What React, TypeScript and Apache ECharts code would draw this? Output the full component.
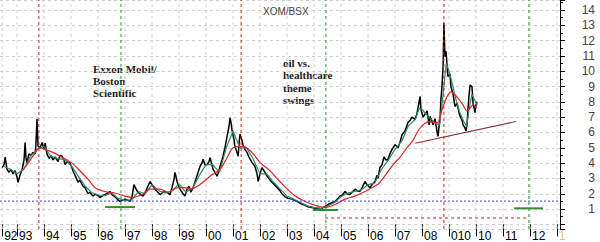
import React, { useEffect, useRef } from "react";
import * as echarts from "echarts";

// x-axis ticks (decimal years) and their printed labels
const tickYears = [1992.45, 1993, 1994, 1995, 1996, 1997, 1998, 1999, 2000, 2001, 2002, 2003, 2004, 2005, 2006, 2007, 2008, 2009, 2010, 2011, 2012, 2013];
const tickLabels = ["92", "93", "94", "95", "96", "97", "98", "99", "00", "01", "02", "03", "04", "05", "06", "07", "08", "010", "10", "11", "12", "1"];

// XOM/BSX ratio (black)
const ratio: [number, number][] = [
  [1992.45,3.7],[1992.52,3.9],[1992.56,4.4],[1992.63,3.6],[1992.70,3.4],[1992.78,3.6],[1992.85,3.3],[1992.93,3.5],[1993.00,3.1],[1993.04,2.75],[1993.11,3.2],[1993.19,3.6],[1993.26,4.2],[1993.30,5.35],[1993.33,4.4],[1993.37,4.0],[1993.44,4.6],[1993.52,4.5],[1993.59,4.7],[1993.67,4.6],[1993.70,5.2],[1993.74,6.9],[1993.78,5.1],[1993.85,5.0],[1993.93,5.35],[1994.00,4.9],[1994.04,5.3],[1994.11,4.6],[1994.19,4.3],[1994.26,4.5],[1994.33,4.2],[1994.41,4.4],[1994.52,4.1],[1994.59,4.5],[1994.67,4.45],[1994.74,4.2],[1994.78,3.9],[1994.85,4.1],[1994.96,4.0],[1995.04,3.7],[1995.07,3.5],[1995.15,3.2],[1995.26,2.75],[1995.33,2.9],[1995.44,2.5],[1995.52,2.4],[1995.63,2.0],[1995.70,2.1],[1995.81,1.85],[1995.89,1.97],[1996.00,1.9],[1996.07,1.75],[1996.15,1.85],[1996.26,1.95],[1996.37,2.05],[1996.44,2.15],[1996.52,1.95],[1996.63,1.8],[1996.74,1.6],[1996.81,1.5],[1996.93,1.6],[1997.00,1.65],[1997.07,1.6],[1997.19,1.5],[1997.26,1.8],[1997.33,2.6],[1997.41,2.3],[1997.48,2.1],[1997.59,1.95],[1997.67,1.85],[1997.78,2.2],[1997.85,2.5],[1997.93,2.8],[1998.00,2.6],[1998.11,2.3],[1998.19,2.15],[1998.30,1.95],[1998.41,2.1],[1998.48,2.15],[1998.59,2.05],[1998.67,1.95],[1998.74,2.4],[1998.81,2.9],[1998.85,3.4],[1998.93,2.8],[1998.96,2.6],[1999.07,2.2],[1999.15,2.0],[1999.22,1.85],[1999.30,2.3],[1999.37,2.5],[1999.44,2.1],[1999.52,2.4],[1999.59,2.75],[1999.67,3.2],[1999.78,3.8],[1999.85,4.0],[1999.89,4.25],[1999.96,3.9],[2000.04,3.9],[2000.11,4.1],[2000.15,4.35],[2000.22,3.9],[2000.26,3.6],[2000.33,3.4],[2000.41,3.15],[2000.48,3.5],[2000.52,3.8],[2000.59,4.2],[2000.63,4.45],[2000.70,5.0],[2000.78,5.75],[2000.85,6.4],[2000.89,6.95],[2000.93,6.6],[2000.96,6.2],[2001.04,5.5],[2001.07,5.1],[2001.15,4.7],[2001.19,4.45],[2001.22,5.2],[2001.26,5.9],[2001.33,5.5],[2001.37,5.2],[2001.44,4.9],[2001.52,4.7],[2001.59,4.4],[2001.70,4.05],[2001.81,3.8],[2001.89,3.3],[2001.93,2.8],[2002.00,3.3],[2002.07,3.7],[2002.15,3.5],[2002.26,3.15],[2002.37,2.9],[2002.44,2.75],[2002.56,2.55],[2002.63,2.4],[2002.74,2.2],[2002.81,2.0],[2002.93,1.8],[2003.04,1.7],[2003.19,1.65],[2003.30,1.55],[2003.41,1.45],[2003.52,1.35],[2003.67,1.25],[2003.78,1.15],[2003.93,1.1],[2004.04,1.05],[2004.15,1.05],[2004.26,1.0],[2004.33,1.1],[2004.44,1.2],[2004.52,1.3],[2004.63,1.4],[2004.78,1.5],[2004.89,1.7],[2004.96,1.85],[2005.04,1.9],[2005.15,2.15],[2005.22,2.0],[2005.33,1.95],[2005.41,2.1],[2005.52,2.3],[2005.59,2.2],[2005.70,2.15],[2005.78,2.4],[2005.89,2.8],[2005.96,2.6],[2006.07,2.4],[2006.15,2.6],[2006.26,2.8],[2006.33,3.2],[2006.37,3.0],[2006.44,3.7],[2006.52,3.9],[2006.59,4.4],[2006.67,4.2],[2006.74,4.25],[2006.81,4.6],[2006.89,4.9],[2007.00,5.2],[2007.11,5.0],[2007.19,5.4],[2007.26,5.85],[2007.37,6.1],[2007.48,6.65],[2007.56,6.8],[2007.63,7.0],[2007.74,6.85],[2007.81,7.2],[2007.85,7.6],[2007.93,8.35],[2007.96,7.5],[2008.04,7.0],[2008.11,7.2],[2008.19,7.4],[2008.26,6.5],[2008.30,7.05],[2008.41,6.5],[2008.48,6.9],[2008.56,6.0],[2008.59,5.75],[2008.67,7.0],[2008.70,8.15],[2008.74,9.0],[2008.78,10.3],[2008.81,13.15],[2008.85,10.95],[2008.89,11.3],[2008.93,10.3],[2008.96,9.65],[2009.04,9.8],[2009.07,9.0],[2009.15,8.5],[2009.22,7.7],[2009.30,7.9],[2009.37,7.3],[2009.41,7.05],[2009.48,6.8],[2009.52,6.5],[2009.59,6.3],[2009.63,6.1],[2009.67,6.6],[2009.70,7.5],[2009.74,8.4],[2009.78,9.1],[2009.85,9.0],[2009.89,7.9],[2009.93,7.6],[2009.96,7.3],[2010.00,7.8],[2010.04,8.0]
];

// short moving average (teal)
const shortAvg: [number, number][] = [
  [1992.5,3.8],[1992.75,3.6],[1993.0,3.3],[1993.25,3.6],[1993.5,4.45],[1993.75,4.9],[1994.0,5.1],[1994.25,4.45],[1994.5,4.3],[1994.75,4.25],[1995.0,3.85],[1995.25,3.2],[1995.5,2.55],[1995.75,2.1],[1996.0,1.92],[1996.25,1.88],[1996.5,2.05],[1996.75,1.7],[1997.0,1.57],[1997.25,1.6],[1997.5,2.15],[1997.75,2.0],[1998.0,2.6],[1998.25,2.2],[1998.5,2.05],[1998.75,2.2],[1999.0,2.65],[1999.25,2.1],[1999.5,2.35],[1999.75,3.2],[2000.0,3.9],[2000.25,3.9],[2000.5,3.4],[2000.75,5.0],[2001.0,6.1],[2001.25,5.0],[2001.5,5.0],[2001.75,4.25],[2002.0,3.3],[2002.25,3.3],[2002.5,2.75],[2002.75,2.3],[2003.0,1.85],[2003.25,1.65],[2003.5,1.43],[2003.75,1.22],[2004.0,1.1],[2004.25,1.05],[2004.5,1.2],[2004.75,1.42],[2005.0,1.8],[2005.25,2.05],[2005.5,2.15],[2005.75,2.25],[2006.0,2.6],[2006.25,2.7],[2006.5,3.6],[2006.75,4.2],[2007.0,4.9],[2007.25,5.45],[2007.5,6.45],[2007.75,6.85],[2007.9,7.6],[2008.0,7.5],[2008.25,7.0],[2008.5,6.6],[2008.65,6.5],[2008.78,8.5],[2008.9,10.5],[2009.0,10.0],[2009.12,9.2],[2009.25,8.2],[2009.4,7.3],[2009.55,6.7],[2009.65,6.4],[2009.75,7.6],[2009.85,8.5],[2009.95,8.1],[2010.04,7.8]
];

// long moving average (red)
const longAvg: [number, number][] = [
  [1993.19,3.5],[1993.37,3.9],[1993.59,4.45],[1993.85,5.0],[1994.04,4.9],[1994.33,4.7],[1994.70,4.35],[1995.04,4.0],[1995.33,3.5],[1995.63,2.95],[1995.89,2.4],[1996.26,2.15],[1996.63,2.05],[1997.00,1.85],[1997.26,1.75],[1997.63,1.95],[1997.93,2.3],[1998.30,2.3],[1998.59,2.1],[1998.96,2.4],[1999.22,2.4],[1999.41,2.3],[1999.78,2.6],[2000.15,3.15],[2000.52,3.6],[2000.78,4.35],[2001.00,5.0],[2001.37,5.1],[2001.70,4.7],[2002.00,4.05],[2002.37,3.5],[2002.63,3.0],[2002.93,2.45],[2003.30,1.85],[2003.67,1.5],[2004.04,1.25],[2004.41,1.1],[2004.78,1.3],[2005.15,1.65],[2005.52,1.85],[2005.89,2.15],[2006.26,2.5],[2006.44,2.75],[2006.93,3.9],[2007.19,4.4],[2007.44,5.0],[2007.67,5.5],[2007.85,6.1],[2008.04,6.5],[2008.22,6.7],[2008.56,6.65],[2008.74,7.5],[2008.93,8.35],[2009.07,8.65],[2009.22,8.45],[2009.33,8.25],[2009.52,7.8],[2009.67,7.4],[2009.78,7.6],[2009.89,7.8],[2010.00,7.6]
];

// annotations
const redCycleYears = [1993.81, 2001.3, 2008.81];
const greenCycleYears = [1996.85, 2004.44, 2011.96];
const supportLevel = 1.52;
const greenBarStarts = [1996.26, 2003.96, 2011.41];
const greenBarEnds = [1997.37, 2004.89, 2012.48];
const greenBarLevels = [1.13, 0.94, 1.05];
const redFloorX = [2004.41, 2011.93];
const redFloorY = [0.42, 0.42];
const trendX = [2007.74, 2011.48];
const trendY = [5.3, 6.72];

const X_MIN = 1992.37;
const X_MAX = 2013.11;
const Y_MIN = -0.3;
const Y_MAX = 14.65;

function segment(data: number[][], color: string, width: number, dash: number[] | "solid", z: number) {
  return {
    type: "line",
    data,
    showSymbol: false,
    silent: true,
    z,
    lineStyle: { color, width, type: dash },
  };
}

export default function App() {
  const ref = useRef<HTMLDivElement>(null);
  useEffect(() => {
    document.body.style.margin = "0";
    const chart = echarts.init(ref.current!, null, { renderer: "svg" });
    const labelFor = (v: number) => {
      let best = 0;
      for (let i = 0; i < tickYears.length; i++) {
        if (Math.abs(tickYears[i] - v) < Math.abs(tickYears[best] - v)) best = i;
      }
      return best === tickLabels.length - 1 ? "{faint|" + tickLabels[best] + "}" : tickLabels[best];
    };
    const vertical = (y: number, color: string, z: number) =>
      segment([[y, Y_MIN], [y, Y_MAX]], color, 1, [3, 3], z);

    chart.setOption({
      animation: false,
      title: {
        text: "XOM/BSX",
        left: 258,
        top: 1,
        textStyle: { fontSize: 10, fontWeight: "normal", color: "#444", fontFamily: "Arial" },
      },
      grid: { left: 0, right: 40, top: 0, bottom: 12 },
      xAxis: {
        type: "value",
        min: X_MIN,
        max: X_MAX,
        axisLine: { show: false },
        axisTick: { show: true, customValues: tickYears, length: 12, lineStyle: { color: "#000" } },
        axisLabel: {
          customValues: tickYears,
          formatter: labelFor,
          align: "left",
          verticalAlign: "top",
          margin: 1,
          padding: [0, 0, 0, 2],
          color: "#000",
          fontSize: 12,
          fontFamily: "Arial",
          rich: { faint: { color: "#d8c880", fontSize: 12, fontFamily: "Arial" } },
        },
        splitLine: { show: false },
      },
      yAxis: {
        type: "value",
        position: "right",
        min: Y_MIN,
        max: Y_MAX,
        splitNumber: 15,
        axisLine: { show: true, lineStyle: { color: "#000" } },
        axisTick: { show: true, length: 5, lineStyle: { color: "#000" } },
        minorTick: { show: true, splitNumber: 2, length: 3, lineStyle: { color: "#000" } },
        axisLabel: {
          formatter: (v: number) => {
            const r = Math.round(v);
            return Math.abs(v - r) < 1e-6 && r >= 1 && r <= 14 ? String(r) : "";
          },
          align: "right",
          margin: 35,
          color: "#444",
          fontSize: 12,
          fontFamily: "Arial",
        },
        splitLine: { show: true, lineStyle: { color: "#cfcfcf", type: [3, 3] } },
      },
      graphic: [
        {
          type: "text",
          x: 93,
          y: 63,
          style: {
            text: "Exxon Mobil/\nBoston\nScientific",
            font: "bold 11px 'Liberation Serif'",
            lineHeight: 12,
            fill: "#222",
          },
        },
        {
          type: "text",
          x: 283,
          y: 57,
          style: {
            text: "oil vs.\nhealthcare\ntheme\nswings",
            font: "bold 11px 'Liberation Serif'",
            lineHeight: 12.3,
            fill: "#222",
          },
        },
      ],
      series: [
        ...tickYears.map((y) => vertical(y, "#cfcfcf", 1)),
        {
          type: "line",
          data: ratio,
          showSymbol: false,
          silent: true,
          z: 2,
          lineStyle: { color: "#000", width: 1.5 },
        },
        {
          type: "line",
          data: shortAvg,
          showSymbol: false,
          silent: true,
          z: 3,
          lineStyle: { color: "#2a8a6a", width: 1.2 },
        },
        {
          type: "line",
          data: longAvg,
          showSymbol: false,
          silent: true,
          smooth: 0.3,
          z: 4,
          lineStyle: { color: "#e52222", width: 1.2 },
        },
        ...redCycleYears.map((y) => vertical(y, "#d42020", 5)),
        ...greenCycleYears.map((y) => vertical(y, "#2f8f2f", 5)),
        segment([[X_MIN, supportLevel], [X_MAX, supportLevel]], "#3a3ae0", 1, [2, 2], 5),
        segment([[trendX[0], trendY[0]], [trendX[1], trendY[1]]], "#8a3040", 1.2, "solid", 5),
        segment([[redFloorX[0], redFloorY[0]], [redFloorX[1], redFloorY[1]]], "#b02030", 1, [3, 3], 5),
        ...greenBarStarts.map((s, i) =>
          segment([[s, greenBarLevels[i]], [greenBarEnds[i], greenBarLevels[i]]], "#2f8f2f", 2, "solid", 6)
        ),
      ],
    });
    return () => chart.dispose();
  }, []);
  return <div ref={ref} style={{ width: 600, height: 242 }} />;
}
